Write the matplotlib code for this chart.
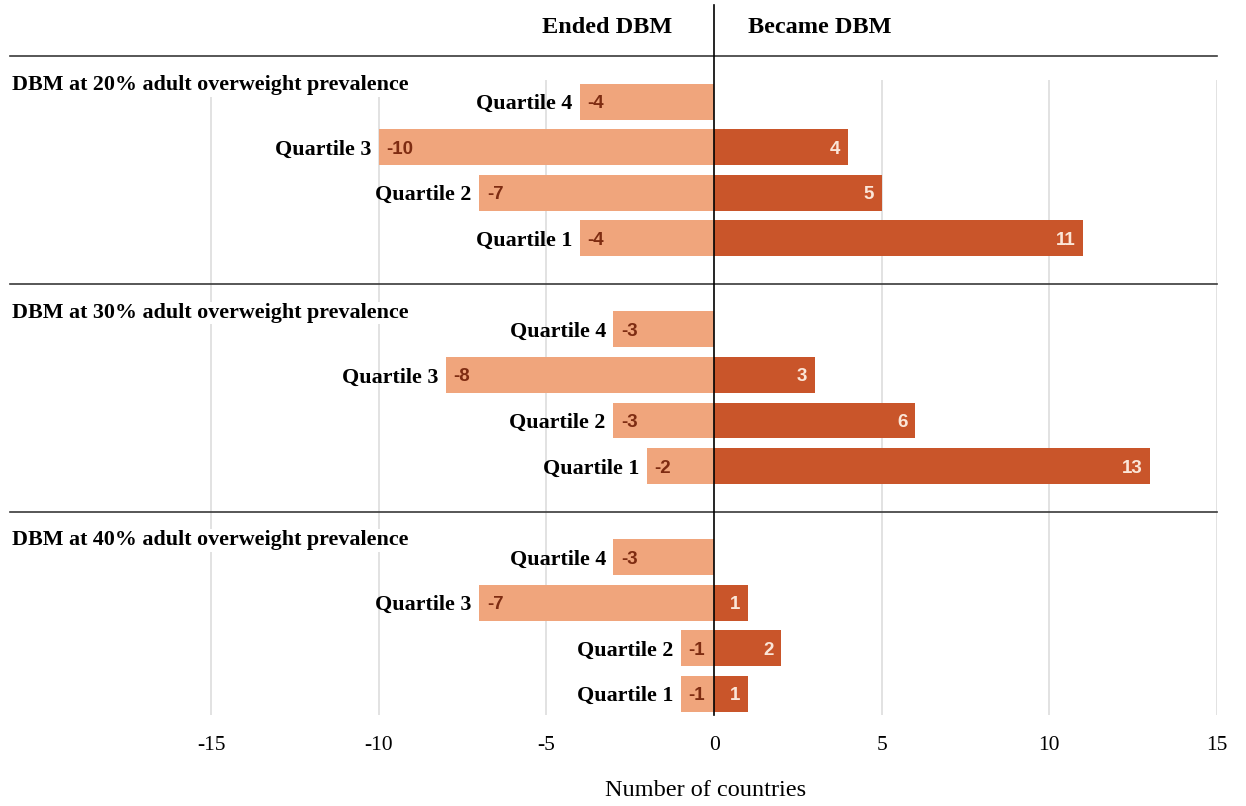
import matplotlib
matplotlib.use("Agg")
import matplotlib.pyplot as plt

# Countries that ended / became DBM, by overweight threshold and quartile
sections = ["DBM at 20% adult overweight prevalence",
            "DBM at 30% adult overweight prevalence",
            "DBM at 40% adult overweight prevalence"]
quartiles = ["Quartile 4", "Quartile 3", "Quartile 2", "Quartile 1"]
ended = [[-4, -10, -7, -4],
         [-3, -8, -3, -2],
         [-3, -7, -1, -1]]
became = [[0, 4, 5, 11],
          [0, 3, 6, 13],
          [0, 1, 2, 1]]
xticks = [-15, -10, -5, 0, 5, 10, 15]

light = "#F0A57C"
dark = "#C9552A"
serif = "Liberation Serif"
sans = "Liberation Sans"

fig = plt.figure(figsize=(12.46, 8.06), dpi=100)
ax = fig.add_axes([10 / 1246, 1 - 715 / 806, 1207 / 1246, (715 - 80) / 806])

for s, title in enumerate(sections):
    base = s * 5
    for q, label in enumerate(quartiles):
        y = base + q
        e = ended[s][q]
        b = became[s][q]
        ax.barh(y, e, height=0.79, color=light, zorder=2)
        ax.annotate(str(e), (e, y), xytext=(5.5, 0), textcoords="offset points",
                    ha="left", va="center_baseline", fontsize=13.5, fontweight="bold",
                    family=sans, color="#7E2C12", zorder=4)
        ax.annotate(label, (e, y), xytext=(-5.5, 0), textcoords="offset points",
                    ha="right", va="center_baseline", fontsize=15.8, fontweight="bold",
                    family=serif, color="black", zorder=4)
        if b:
            ax.barh(y, b, height=0.79, color=dark, zorder=2)
            ax.annotate(str(b), (b, y), xytext=(-5.5, 0), textcoords="offset points",
                        ha="right", va="center_baseline", fontsize=13.5,
                        fontweight="bold", family=sans, color="#FBE6D8", zorder=4)
    # section separator and header
    ax.plot([-21, 15], [base - 1, base - 1], color="#3a3a3a", lw=1.2,
            clip_on=False, zorder=3)
    ax.text(-20.95, base - 0.42, title, ha="left", va="center_baseline",
            fontsize=15.8, fontweight="bold", family=serif, zorder=3,
            bbox=dict(facecolor="white", edgecolor="none", pad=1))

# zero line running up through the column headers
ax.plot([0, 0], [-2.13, 13.47], color="black", lw=1.2, clip_on=False, zorder=5)
ax.text(-1.25, -1.69, "Ended DBM", ha="right", va="center_baseline",
        fontsize=17.5, fontweight="bold", family=serif)
ax.text(1.0, -1.69, "Became DBM", ha="left", va="center_baseline",
        fontsize=17.5, fontweight="bold", family=serif)

ax.set_xlim(-21, 15)
ax.set_ylim(13.47, -0.48)
ax.set_xticks(xticks)
ax.set_xticklabels([str(t) for t in xticks], family=serif, fontsize=15.5)
ax.set_yticks([])
ax.tick_params(axis="x", length=0, pad=15)
for t in xticks:
    if t != 0:
        ax.axvline(t, color="#DDDDDD", lw=1.2, zorder=0)
for sp in ax.spines.values():
    sp.set_visible(False)
ax.set_xlabel("Number of countries", family=serif, fontsize=17.5)
ax.xaxis.set_label_coords(0.5766, -0.102)

fig.savefig("out.png", dpi=100)
